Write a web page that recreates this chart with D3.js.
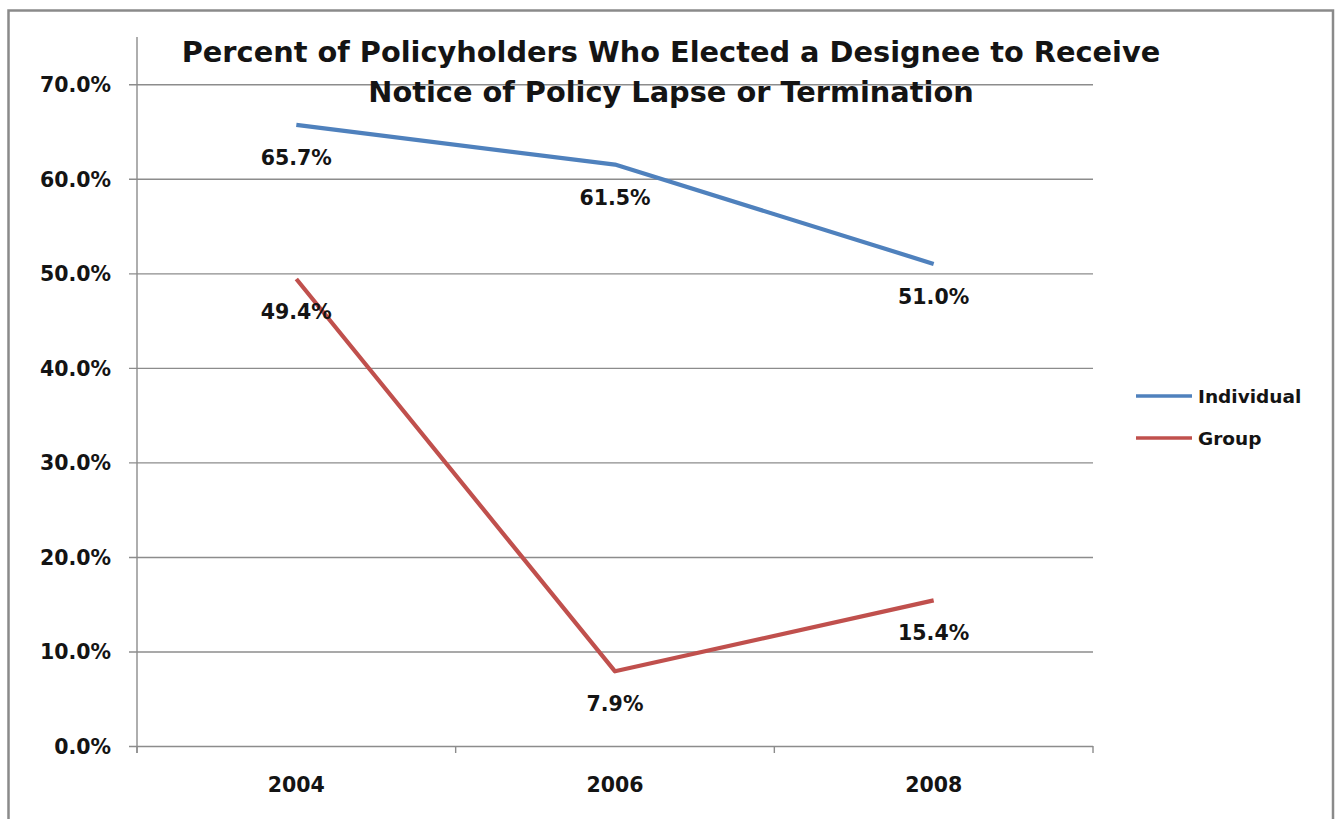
<!DOCTYPE html>
<html>
<head>
<meta charset="utf-8">
<script src="https://cdn.jsdelivr.net/npm/d3@7"></script>
<style>
  html, body { margin: 0; padding: 0; background: #fff; }
  svg { display: block; }
  text { font-family: "DejaVu Sans", sans-serif; font-weight: bold; fill: #141414; }
</style>
</head>
<body>
<svg id="chart" width="1338" height="819"></svg>
<script>
// Survey years and the share of policyholders naming a designee
const years = ["2004", "2006", "2008"];
const individual = [0.657, 0.615, 0.510];
const group = [0.494, 0.079, 0.154];
const seriesNames = ["Individual", "Group"];
const seriesColors = ["#4F81BD", "#C0504D"];
const yTicks = [0, 0.1, 0.2, 0.3, 0.4, 0.5, 0.6, 0.7];
const titleLines = [
  "Percent of Policyholders Who Elected a Designee to Receive",
  "Notice of Policy Lapse or Termination"
];

const svg = d3.select("#chart");
const plot = { left: 137, right: 1093, top: 37, bottom: 746 };

// Outer frame of the chart area
svg.append("rect")
  .attr("x", 8.5).attr("y", 10.5)
  .attr("width", 1324.5).attr("height", 840)
  .attr("fill", "none").attr("stroke", "#8a8a8a").attr("stroke-width", 2.5);

const x = d3.scaleBand().domain(years).range([plot.left, plot.right]).padding(0);
const y = d3.scaleLinear().domain([0, 0.75]).range([plot.bottom, plot.top]);
const fmt = d3.format(".1%");

// Horizontal gridlines, with the y axis supplying ticks and labels
const yAxis = d3.axisLeft(y)
  .tickValues(yTicks)
  .tickFormat(fmt)
  .tickSize(-(plot.right - plot.left))
  .tickSizeOuter(0)
  .tickPadding(0);

const gy = svg.append("g")
  .attr("transform", `translate(${plot.left},0)`)
  .call(yAxis);
gy.select(".domain").remove();
gy.selectAll(".tick line")
  .attr("x1", -8)
  .attr("stroke", "#8c8c8c").attr("stroke-width", 1.4);
gy.selectAll(".tick text")
  .attr("x", -26).attr("dy", "0.36em")
  .style("font-size", "20.5px")
  .attr("fill", "#141414");

// Vertical axis line
svg.append("line")
  .attr("x1", plot.left).attr("x2", plot.left)
  .attr("y1", plot.top).attr("y2", plot.bottom + 7)
  .attr("stroke", "#8c8c8c").attr("stroke-width", 1.4);

// Category axis: tick marks sit on band boundaries, labels at band centres
const gx = svg.append("g")
  .attr("transform", `translate(0,${plot.bottom})`)
  .call(d3.axisBottom(x).tickSize(0).tickPadding(0));
gx.select(".domain").remove();
gx.selectAll(".tick text")
  .attr("y", 46).attr("dy", 0)
  .style("font-size", "20.5px")
  .attr("fill", "#141414");

const boundaries = years.map(d => x(d)).concat([x(years[years.length - 1]) + x.bandwidth()]);
svg.append("g").selectAll("line").data(boundaries).join("line")
  .attr("x1", d => d).attr("x2", d => d)
  .attr("y1", plot.bottom).attr("y2", plot.bottom + 7)
  .attr("stroke", "#8c8c8c").attr("stroke-width", 1.4);

// Series lines and their value labels
const cx = d => x(d) + x.bandwidth() / 2;
const line = d3.line().x(d => cx(d.year)).y(d => y(d.value));
const series = [individual, group].map((vals, i) => ({
  name: seriesNames[i],
  color: seriesColors[i],
  points: years.map((yr, j) => ({ year: yr, value: vals[j] }))
}));

series.forEach(s => {
  svg.append("path")
    .datum(s.points)
    .attr("d", line)
    .attr("fill", "none")
    .attr("stroke", s.color)
    .attr("stroke-width", 4.2)
    .attr("stroke-linejoin", "round");
});

series.forEach(s => {
  svg.append("g").selectAll("text").data(s.points).join("text")
    .attr("x", d => cx(d.year))
    .attr("y", d => y(d.value) + 40)
    .attr("text-anchor", "middle")
    .style("font-size", "20.5px")
    .text(d => fmt(d.value));
});

// Legend
const legend = svg.append("g").attr("transform", "translate(1136,396)");
series.forEach((s, i) => {
  const g = legend.append("g").attr("transform", `translate(0,${i * 42})`);
  g.append("line")
    .attr("x1", 0).attr("x2", 56)
    .attr("stroke", s.color).attr("stroke-width", 3.5);
  g.append("text")
    .attr("x", 62).attr("dy", "0.36em")
    .style("font-size", "18.5px")
    .text(s.name);
});

// Title
svg.append("text")
  .attr("x", 671).attr("y", 62)
  .attr("text-anchor", "middle")
  .style("font-size", "28.8px")
  .selectAll("tspan").data(titleLines).join("tspan")
  .attr("x", 671)
  .attr("dy", (d, i) => i === 0 ? 0 : 40)
  .text(d => d);
</script>
</body>
</html>
